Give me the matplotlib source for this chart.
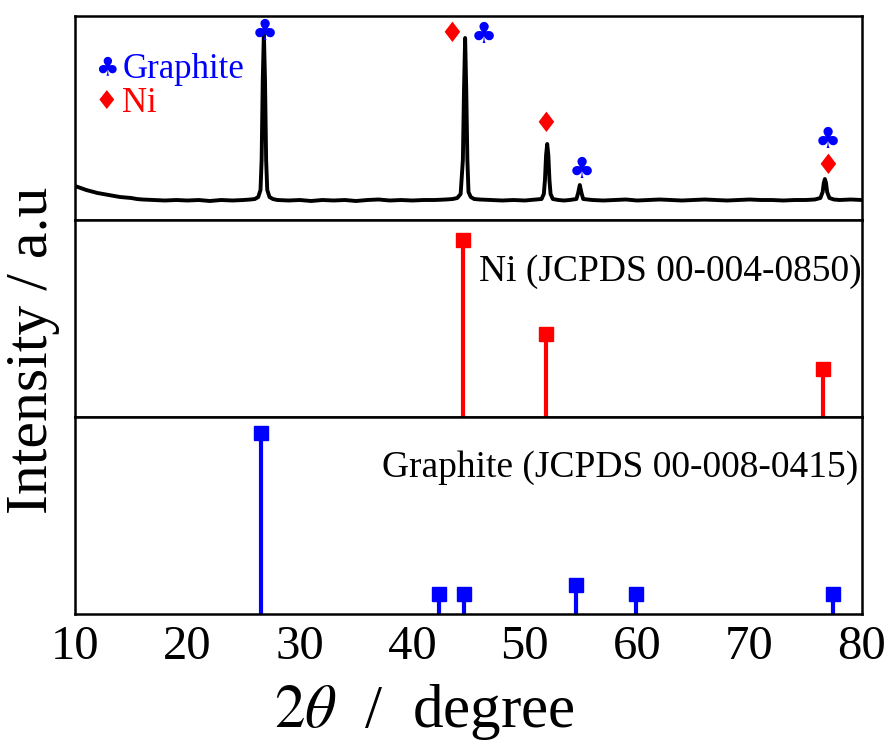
import matplotlib
matplotlib.use('Agg')
import matplotlib.pyplot as plt

plt.rcParams['font.family'] = ['Liberation Serif', 'DejaVu Sans']
plt.rcParams['mathtext.fontset'] = 'stix'

# measured XRD pattern (2theta, intensity a.u.)
xrd_2theta = [10.0, 10.5, 11.0, 11.5, 12.0, 12.5, 13.0, 13.5, 14.0, 14.5, 15.0, 15.5, 16.0, 17.0, 18.0,
              19.0, 20.0, 21.0, 22.0, 23.0, 24.0, 25.0, 25.6, 26.0, 26.3, 26.5, 26.6, 26.7, 26.8,
              26.9, 27.0, 27.1, 27.3, 27.6, 28.0, 29.0, 30.0, 31.0, 32.0, 33.0, 34.0, 35.0, 36.0,
              37.0, 38.0, 39.0, 40.0, 41.0, 42.0, 43.0, 43.6, 44.0, 44.3, 44.5, 44.6, 44.7, 44.8,
              44.9, 45.0, 45.2, 45.5, 46.0, 47.0, 48.0, 49.0, 50.0, 51.0, 51.5, 51.7, 51.8, 51.9,
              52.0, 52.1, 52.2, 52.3, 52.5, 53.0, 53.5, 54.0, 54.6, 54.75, 54.9, 55.05, 55.2, 55.6,
              56.0, 57.0, 58.0, 59.0, 60.0, 61.0, 62.0, 63.0, 64.0, 65.0, 66.0, 67.0, 68.0, 69.0,
              70.0, 71.0, 72.0, 73.0, 74.0, 75.0, 75.8, 76.3, 76.5, 76.6, 76.7, 76.8, 76.9, 77.1,
              77.5, 78.0, 79.0, 80.0]
xrd_counts = [34, 32, 30, 28.5, 27, 26, 25, 24, 23, 22.5, 22, 21, 20.5, 20, 19.5,
              20, 19.5, 20, 19, 20, 19.5, 20, 20.5, 21, 23, 30, 60, 140, 187,
              140, 60, 30, 23, 21, 20, 19.5, 20, 19, 20, 19.5, 20, 19, 20,
              20.5, 19.5, 20, 19.5, 20, 20, 20.5, 21, 22, 26, 60, 130, 182, 130,
              60, 28, 23, 21, 20.5, 20, 19.5, 20, 19.5, 20.5, 21, 26, 40, 65,
              76, 65, 40, 26, 21, 20, 19.5, 20, 21, 27, 35, 27, 21, 20.5,
              20, 19.5, 20, 20.5, 19.5, 20, 20.5, 20, 19.5, 20, 20.5, 20, 19.5, 20,
              20.5, 20, 20, 19.5, 20, 20, 20.5, 22, 28, 37, 41, 37, 28, 22,
              20.5, 20, 20.5, 20]

# Ni reference JCPDS 00-004-0850
ni_pos = [44.5, 51.9, 76.5]
ni_int = [100, 47, 27]

# graphite reference JCPDS 00-008-0415
gr_pos = [26.5, 42.4, 44.6, 54.6, 59.9, 77.4]
gr_int = [100, 11, 11, 16, 11, 11]

# peak labels in the top panel
club_x = [26.9, 46.4, 55.1, 77.0]
club_y = [188, 185, 50, 80]
diamond_x = [43.5, 51.9, 77.0]
diamond_y = [186, 96, 54]

BLUE = '#0000ff'
RED = '#ff0000'

fig = plt.figure(figsize=(8.9, 7.45), dpi=100)
L, R = 75 / 890, 862 / 890
W = R - L
def box(top_px, bot_px):
    return [L, 1 - bot_px / 745, W, (bot_px - top_px) / 745]

ax1 = fig.add_axes(box(16, 220))
ax2 = fig.add_axes(box(220, 417))
ax3 = fig.add_axes(box(417, 614))

for ax in (ax1, ax2, ax3):
    ax.set_xlim(10, 80)
    ax.set_yticks([])
    ax.tick_params(axis='x', length=0, labelsize=35, pad=8)
    for sp in ax.spines.values():
        sp.set_linewidth(1.8)
ax1.tick_params(labelbottom=False)
ax2.tick_params(labelbottom=False)
ax3.set_xticks([10, 20, 30, 40, 50, 60, 70, 80])

# top: measured pattern
ax1.plot(xrd_2theta, xrd_counts, color='black', lw=2.8)
ax1.set_ylim(0, 204)
for x, y in zip(club_x, club_y):
    ax1.text(x, y, '\u2663', color=BLUE, fontsize=21, ha='center', va='center', family='DejaVu Sans')
for x, y in zip(diamond_x, diamond_y):
    ax1.text(x, y, '\u2666', color=RED, fontsize=20, ha='center', va='center', family='DejaVu Sans')
# legend
ax1.text(12.8, 152, '\u2663', color=BLUE, fontsize=19, ha='center', va='center', family='DejaVu Sans')
ax1.text(14.2, 151, 'Graphite', color=BLUE, fontsize=25, ha='left', va='center')
ax1.text(12.8, 118, '\u2666', color=RED, fontsize=19, ha='center', va='center', family='DejaVu Sans')
ax1.text(14.2, 117, 'Ni', color=RED, fontsize=25, ha='left', va='center')

# middle: Ni sticks
ax2.vlines(ni_pos, 0, ni_int, color=RED, lw=3)
ax2.plot(ni_pos, ni_int, 's', color=RED, ms=10)
ax2.set_ylim(0, 111)
ax2.text(80.0, 82, 'Ni (JCPDS 00-004-0850)', fontsize=27, ha='right', va='center')

# bottom: graphite sticks
ax3.vlines(gr_pos, 0, gr_int, color=BLUE, lw=3)
ax3.plot(gr_pos, gr_int, 's', color=BLUE, ms=10)
ax3.set_ylim(0, 109)
ax3.text(79.7, 81, 'Graphite (JCPDS 00-008-0415)', fontsize=27, ha='right', va='center')

fig.text(424 / 890, 1 - 712 / 745, r'$2\theta$  /  degree', fontsize=44, ha='center', va='center')
fig.text(33 / 890, 1 - 350 / 745, 'Intensity / a.u', fontsize=43, rotation=90, ha='center', va='center')

fig.savefig('out.png', dpi=100)
